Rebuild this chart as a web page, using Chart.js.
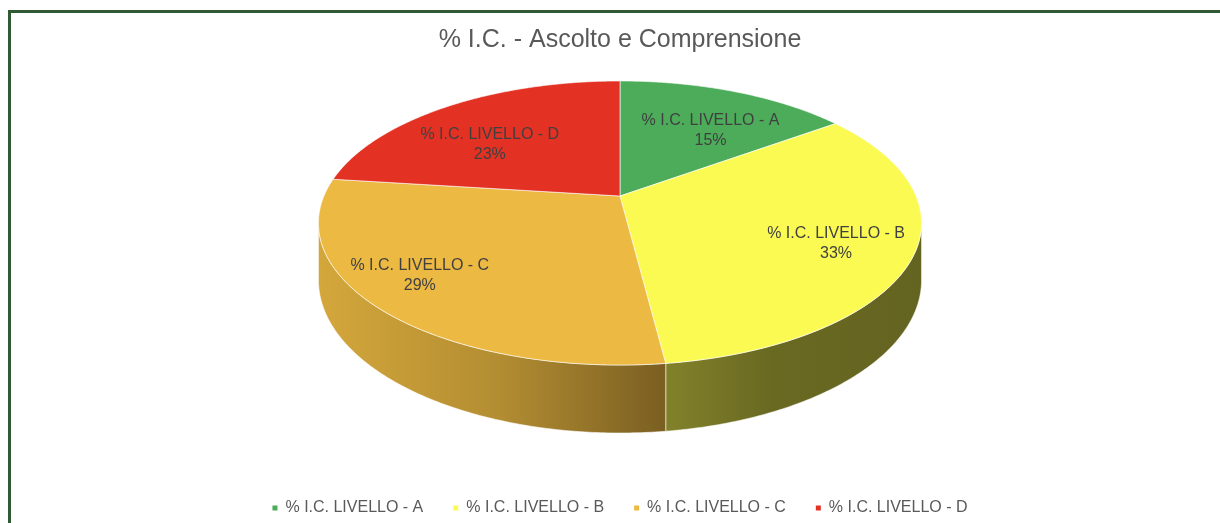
<!DOCTYPE html>
<html>
<head>
<meta charset="utf-8">
<script src="https://cdn.jsdelivr.net/npm/chart.js@4.4.0/dist/chart.umd.min.js"></script>
<style>
  html, body { margin: 0; padding: 0; background: #fff; overflow: hidden; }
  #frame { position: absolute; left: 8px; top: 10px; width: 1218px; height: 520px; border: 3px solid #2f5a33; background: #fff; }
  canvas { display: block; }
</style>
</head>
<body>
<div id="frame"><canvas id="pie" width="1218" height="513"></canvas></div>
<script>
const chartTitle = '% I.C. - Ascolto e Comprensione';
const levels = ['% I.C. LIVELLO - A', '% I.C. LIVELLO - B', '% I.C. LIVELLO - C', '% I.C. LIVELLO - D'];
const percents = [15, 33, 29, 23];
const sliceColors = ['#4cac5a', '#fbfa52', '#ecb942', '#e33224'];

const FONT = '"Liberation Sans", Arial, sans-serif';

// small nudges so the data labels sit where the original puts them
const labelNudge = [[0, 17], [-3, 4], [-23, -2], [4, 19]];

// darken a hex colour by factor f
function shade(hex, f) {
  const n = parseInt(hex.slice(1), 16);
  const r = Math.round(((n >> 16) & 255) * f);
  const g = Math.round(((n >> 8) & 255) * f);
  const b = Math.round((n & 255) * f);
  return `rgb(${r},${g},${b})`;
}

// tilted pie seen in perspective, sized from the chart area
function geometry(chart) {
  const area = chart.chartArea;
  const h = area.bottom - area.top;
  return {
    cx: (area.left + area.right) / 2,
    cy: area.top + h * 0.3235,
    a: h * 0.338,
    b: h * 0.731,
    k: 0.19,
    depth: h * 0.136
  };
}

function project(g, theta, r, drop) {
  const s = Math.sin(theta) * r, c = Math.cos(theta) * r;
  const w = 1 + g.k * c;
  return { x: g.cx + g.b * s / w, y: g.cy - g.a * c / w + drop * g.depth / w };
}

function rimPath(ctx, g, from, to, drop, first) {
  const steps = Math.max(2, Math.ceil(Math.abs(to - from) / 0.01));
  for (let j = 0; j <= steps; j++) {
    const p = project(g, from + (to - from) * j / steps, 1, drop);
    if (j === 0 && first) ctx.moveTo(p.x, p.y); else ctx.lineTo(p.x, p.y);
  }
}

const pie3d = {
  id: 'pie3d',
  beforeDatasetsDraw(chart) {
    const ctx = chart.ctx;
    const g = geometry(chart);
    const arcs = chart.getDatasetMeta(0).data;
    const t1 = Math.acos(-g.k), t2 = 2 * Math.PI - t1;
    const xl = g.cx - g.b * 1.02, xr = g.cx + g.b * 1.02;

    ctx.save();
    // visible side walls
    arcs.forEach((arc) => {
      const s = Math.max(arc.startAngle + Math.PI / 2, t1);
      const e = Math.min(arc.endAngle + Math.PI / 2, t2);
      if (e <= s) return;
      const col = arc.options.backgroundColor;
      const grad = ctx.createLinearGradient(xl, 0, xr, 0);
      grad.addColorStop(0, shade(col, 0.9));
      grad.addColorStop(0.3, shade(col, 0.76));
      grad.addColorStop(0.57, shade(col, 0.52));
      grad.addColorStop(0.75, shade(col, 0.42));
      grad.addColorStop(1, shade(col, 0.4));
      ctx.beginPath();
      rimPath(ctx, g, s, e, 0, true);
      rimPath(ctx, g, e, s, 1, false);
      ctx.closePath();
      ctx.fillStyle = grad;
      ctx.fill();
      ctx.strokeStyle = 'rgba(255,255,255,0.55)';
      ctx.lineWidth = 1;
      ctx.stroke();
    });
    // top faces
    arcs.forEach((arc) => {
      const s = arc.startAngle + Math.PI / 2, e = arc.endAngle + Math.PI / 2;
      const c = project(g, 0, 0, 0);
      ctx.beginPath();
      ctx.moveTo(c.x, c.y);
      rimPath(ctx, g, s, e, 0, false);
      ctx.closePath();
      ctx.fillStyle = arc.options.backgroundColor;
      ctx.fill();
      ctx.strokeStyle = 'rgba(255,255,255,0.6)';
      ctx.lineWidth = 1;
      ctx.stroke();
    });
    // data labels
    const total = percents.reduce((p, v) => p + v, 0);
    ctx.fillStyle = '#404040';
    ctx.font = '16px ' + FONT;
    ctx.textAlign = 'center';
    ctx.textBaseline = 'middle';
    arcs.forEach((arc, i) => {
      const mid = (arc.startAngle + arc.endAngle) / 2 + Math.PI / 2;
      const p = project(g, mid, 0.76, 0);
      const x = p.x + labelNudge[i][0], y = p.y + labelNudge[i][1];
      ctx.fillText(chart.data.labels[i], x, y - 10);
      ctx.fillText(Math.round(percents[i] / total * 100) + '%', x, y + 10);
    });
    ctx.restore();
    return false;
  }
};

new Chart(document.getElementById('pie'), {
  type: 'pie',
  data: {
    labels: levels,
    datasets: [{
      data: percents,
      backgroundColor: sliceColors,
      borderWidth: 0
    }]
  },
  options: {
    responsive: false,
    animation: false,
    plugins: {
      title: {
        display: true,
        text: chartTitle,
        color: '#595959',
        font: { family: FONT, size: 25, weight: 'normal' },
        padding: { top: 12, bottom: 10 }
      },
      legend: {
        position: 'bottom',
        labels: {
          usePointStyle: true,
          pointStyle: 'rect',
          boxWidth: 5,
          boxHeight: 5,
          padding: 30,
          color: '#595959',
          font: { family: FONT, size: 16 }
        }
      },
      tooltip: { enabled: false }
    }
  },
  plugins: [pie3d]
});
</script>
</body>
</html>
